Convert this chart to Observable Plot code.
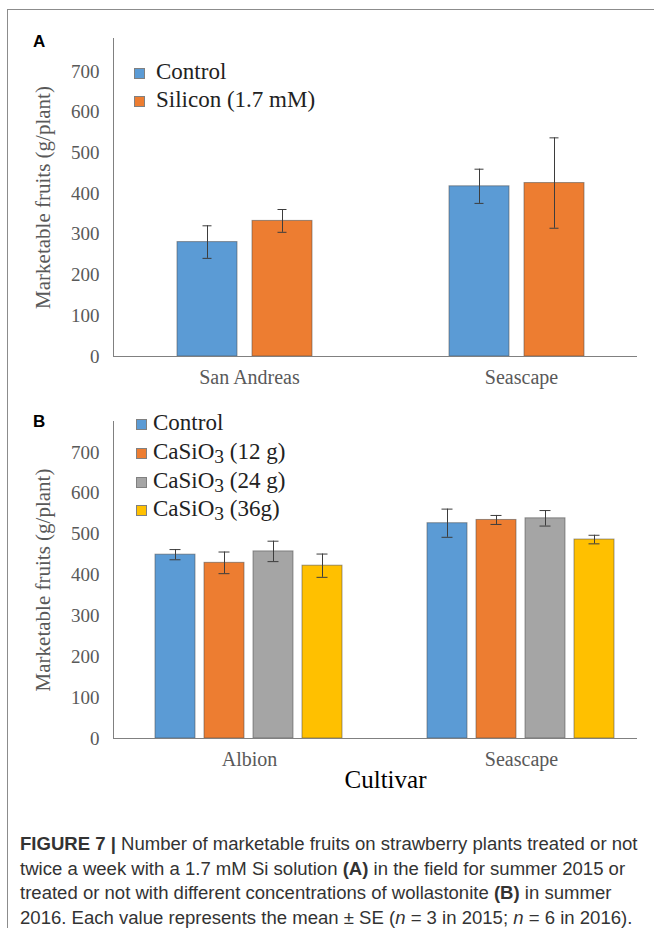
<!DOCTYPE html>
<html><head><meta charset="utf-8">
<script src="https://cdn.jsdelivr.net/npm/d3@7"></script>
<script src="https://cdn.jsdelivr.net/npm/@observablehq/plot@0.6"></script>
<style>
html,body{margin:0;padding:0;background:#fff;}
body{width:654px;height:930px;position:relative;overflow:hidden;}
#frame{position:absolute;left:7px;top:9px;width:660px;height:918px;border-top:1px solid #8c8c8c;border-left:1px solid #8c8c8c;pointer-events:none;}
.panel{position:absolute;left:0;}
.tag{position:absolute;font:bold 17px "Liberation Sans",Arial,sans-serif;line-height:17px;color:#000;}
.legend{position:absolute;font-family:"Liberation Serif","Times New Roman",serif;font-size:23px;color:#222;}
.legend .row{white-space:nowrap;}
.legend sub{font-size:0.85em;vertical-align:-0.22em;line-height:0;}
.sw{display:inline-block;width:11px;height:11px;border:1px solid #808080;box-sizing:border-box;vertical-align:0;}
#caption{position:absolute;left:20px;top:832px;font-family:"Liberation Sans",Arial,sans-serif;font-size:17px;line-height:24.5px;color:#333;white-space:nowrap;}
</style></head><body>
<div id="chartA" class="panel" style="top:20px"></div>
<div id="chartB" class="panel" style="top:400px"></div>
<div class="tag" style="left:33px;top:33px">A</div>
<div class="tag" style="left:33px;top:413px">B</div>
<div id="legendA" class="legend" style="left:134px;top:58px;line-height:27.5px"></div>
<div id="legendB" class="legend" style="left:136px;top:409px;line-height:28.8px"></div>
<div id="caption"><span id="cap1"><b>FIGURE 7 |</b> Number of marketable fruits on strawberry plants treated or not</span><br>twice a week with a 1.7 mM Si solution <b>(A)</b> in the field for summer 2015 or<br>treated or not with different concentrations of wollastonite <b>(B)</b> in summer<br>2016. Each value represents the mean ± SE (<i>n</i> = 3 in 2015; <i>n</i> = 6 in 2016).</div>
<div id="frame"></div>
<script>
// ---- Data ----
const cultivarsA = ["San Andreas", "Seascape"];
const treatmentsA = ["Control", "Silicon (1.7 mM)"];
const meansA = [[281, 333], [418, 426]];
const seA = [[40, 28], [42, 111]];
const colorsA = ["#5B9BD5", "#ED7D31"];

const cultivarsB = ["Albion", "Seascape"];
const treatmentsB = ["Control", "CaSiO3 (12 g)", "CaSiO3 (24 g)", "CaSiO3 (36g)"];
const meansB = [[450, 430, 458, 423], [527, 535, 539, 487]];
const seB = [[12.5, 26.5, 25, 28.5], [34.5, 11, 19, 10.5]];
const colorsB = ["#5B9BD5", "#ED7D31", "#A5A5A5", "#FFC000"];

const yTicks = [0, 100, 200, 300, 400, 500, 600, 700];
const yLabel = "Marketable fruits (g/plant)";
const xLabelB = "Cultivar";

const serif = '"Liberation Serif","Times New Roman",serif';

function panel(o) {
  const data = [];
  o.cultivars.forEach((c, i) => o.treatments.forEach((t, j) =>
    data.push({cultivar: c, treatment: t, v: o.means[i][j], se: o.se[i][j]})));
  const eb = "#3d3d3d";
  const marks = [
    Plot.barY(data, {fx: "cultivar", x: "treatment", y: "v", fill: "treatment",
      stroke: "#4d4d4d", strokeOpacity: 0.55, strokeWidth: 1}),
    Plot.ruleY([0], {fx: [o.cultivars[0]], stroke: "#808080"}),
    Plot.ruleY([0], {fx: [o.cultivars[1]], stroke: "#808080", insetRight: o.ruleInsetRight}),
    Plot.frame({anchor: "left", facetAnchor: "left", stroke: "#808080"}),
    Plot.ruleX(data, {fx: "cultivar", x: "treatment", y1: d => d.v - d.se, y2: d => d.v + d.se, stroke: eb}),
    Plot.tickY(data, {fx: "cultivar", x: "treatment", y: d => d.v + d.se, stroke: eb, insetLeft: o.capInset, insetRight: o.capInset}),
    Plot.tickY(data, {fx: "cultivar", x: "treatment", y: d => d.v - d.se, stroke: eb, insetLeft: o.capInset, insetRight: o.capInset}),
    Plot.axisY({ticks: yTicks, tickSize: 0, tickPadding: 14, fill: "#595959", fontSize: 19, label: null}),
    Plot.axisY({ticks: [], tickSize: 0, fill: "#595959", fontSize: 21, label: yLabel, labelArrow: "none", labelAnchor: "center", labelOffset: 78}),
    Plot.axisFx({anchor: "bottom", tickSize: 0, tickPadding: 13, fill: "#595959", fontSize: 20, label: null})
  ];
  if (o.xLabel) marks.push(Plot.axisFx({anchor: "bottom", ticks: [], tickSize: 0, label: o.xLabel, labelArrow: "none",
    labelAnchor: "center", labelOffset: 49, fill: "#000", fontSize: 25}));
  return Plot.plot({
    width: 654, height: o.height,
    marginLeft: 112, marginRight: -3, marginTop: o.marginTop, marginBottom: o.marginBottom,
    style: {fontFamily: serif, background: "none", overflow: "visible"},
    fx: {domain: o.cultivars, padding: 0, label: null},
    x: {domain: o.treatments, paddingInner: o.padIn, paddingOuter: o.padOut, align: o.align, axis: null},
    y: {domain: [0, o.yMax]},
    color: {domain: o.treatments, range: o.colors},
    marks
  });
}

document.getElementById("chartA").append(panel({
  cultivars: cultivarsA, treatments: treatmentsA, means: meansA, se: seA, colors: colorsA,
  height: 375, marginTop: 18, marginBottom: 39, yMax: 781,
  padIn: 0.197, padOut: 0.891, align: 0.47, capInset: 25.5, ruleInsetRight: 20
}));
document.getElementById("chartB").append(panel({
  cultivars: cultivarsB, treatments: treatmentsB, means: meansB, se: seB, colors: colorsB,
  height: 400, marginTop: 21, marginBottom: 62, yMax: 776,
  padIn: 0.19, padOut: 0.864, align: 0.49, capInset: 14.5, ruleInsetRight: 20, xLabel: xLabelB
}));

function legend(id, treatments, colors, gap) {
  document.getElementById(id).innerHTML = treatments.map((t, i) =>
    `<div class="row"><span class="sw" style="background:${colors[i]};margin-right:${gap}px"></span>${t.replace("CaSiO3", "CaSiO<sub>3</sub>")}</div>`).join("");
}
legend("legendA", treatmentsA, colorsA, 11);
legend("legendB", treatmentsB, colorsB, 6);

// fit caption's first line to the reference width
const cap = document.getElementById("caption");
const w = document.getElementById("cap1").getBoundingClientRect().width;
cap.style.fontSize = (17 * 618 / w).toFixed(2) + "px";
</script>
</body></html>
